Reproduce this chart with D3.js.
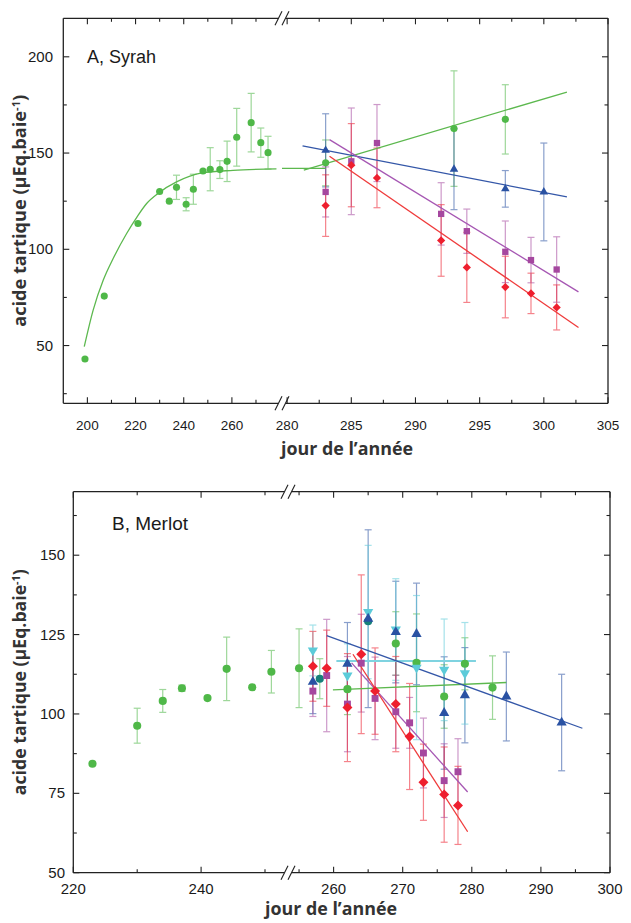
<!DOCTYPE html>
<html><head><meta charset="utf-8">
<script src="https://cdn.jsdelivr.net/npm/d3@7"></script>
<style>body{margin:0;background:#fff}</style>
</head><body><svg id="c" width="631" height="923"></svg>
<script>
// ---------------- DATA ----------------
// Panel A, Syrah – development (green circles)
const syrahDevDays = [199,207,221,230,234,237,241,244,248,251,255,258,262,268,272,275];
const syrahDevVals = [43,75.7,113.4,130,125,132.2,123.4,131.2,140.7,141.6,141.4,145.7,158.2,165.8,155.4,150.2];
const syrahDevErr  = [0,0,0,0,0,6.3,3.4,7.8,0,11.2,4.6,10.5,15,15.2,7.6,8.5];
// fitted curve
const syrahFitDays = [198.7,202.4,206.6,210.7,216.3,220.7,224.6,229.6,237,247.6,260.5,278.5];
const syrahFitVals = [49.4,68.4,84,95.2,108.2,117,123.8,129.3,135,139.7,141,141.8];
const syrahFitRightDays = [279.6,283];
const syrahFitRightVals = [142,142];
// Panel A treatments
const syrahGreenDays = [283,293,297];
const syrahGreenVals = [144.9,162.7,167.5];
const syrahGreenErr  = [11.9,30,18];
const syrahBlueDays = [283,293,297,300];
const syrahBlueVals = [151.4,141.6,131.4,129.8];
const syrahBlueErr  = [19,21,9.5,25.4];
const syrahPurpleDays = [283,285,287,292,294,297,299,301];
const syrahPurpleVals = [129.8,145.7,155.2,118.4,109.4,98.7,94.4,89.5];
const syrahPurpleErr  = [13,27.7,20,16.2,11.5,16,11.8,17];
const syrahRedDays = [283,285,287,292,294,297,299,301];
const syrahRedVals = [122.7,143.7,137.1,104.6,90.6,80.4,77.1,69.8];
const syrahRedErr  = [16,21.6,15.5,18.6,18.2,16,10.5,11.7];
// regression line end points [day, value]
const syrahGreenLine  = [[281.3,141.1],[301.8,181.7]];
const syrahBlueLine   = [[281.2,153.7],[301.8,127.2]];
const syrahPurpleLine = [[283.3,157],[302.7,77.9]];
const syrahRedLine    = [[283.3,148.3],[302.7,59.4]];

// Panel B, Merlot – development
const merlotDevDays = [223,230,234,237,241,244,248,251,255];
const merlotDevVals = [84.3,96.3,104.1,108.1,105,114.2,108.4,113.3,114.4];
const merlotDevErr  = [0,5.5,3.6,1,0,10,0,6.7,12.4];
// Panel B treatments
const merlotGreenDays = [262,269,272,276,279,283];
const merlotGreenVals = [107.8,122.2,116.1,105.5,115.8,108.3];
const merlotGreenErr  = [8,10,15.4,10,8.2,10];
const merlotBlueDays = [257,262,265,269,272,276,279,285,293];
const merlotBlueVals = [110.1,115.8,130,125.8,125.2,100.3,105.9,105.5,97.3];
const merlotBlueErr  = [10,13,28,16,16,17.7,15,14,15.2];
const merlotCyanDays = [257,262,265,269,272,276,279];
const merlotCyanVals = [120,112.1,132.1,126.6,114.6,113.9,112.8];
const merlotCyanErr  = [8,10,21,16,22.7,16,16];
const merlotTealDays = [258,265];
const merlotTealVals = [111.1,129.2];
const merlotTealErr  = [6.3,0];
const merlotRedDays = [257,259,262,264,266,269,271,273,276,278];
const merlotRedVals = [115,114.4,102,118.8,107.2,103.1,92.9,78.5,74.6,71.2];
const merlotRedErr  = [11,12,17,25,13.6,15,16.7,12,15,12.3];
const merlotPurpleDays = [257,259,262,264,266,269,271,273,276,278];
const merlotPurpleVals = [107.2,112.1,103.1,116,104.9,100.7,97.2,87.7,79,81.8];
const merlotPurpleErr  = [8,17.7,15,15.4,13,11.5,8,11,11.6,10.4];
const merlotGreenLine  = [[259.9,107.6],[285,109.9]];
const merlotBlueLine   = [[259,124.7],[296,95.5]];
const merlotCyanLine   = [[260.4,116.7],[280.6,116.7]];
const merlotRedLine    = [[262.8,118.8],[279.4,62.9]];
const merlotPurpleLine = [[262.6,116.1],[279.4,75.4]];

// tick values
const aLeftMajor = [200,220,240,260], aLeftMinor = [210,230,250,270];
const aRightMajor = [280,285,290,295,300,305], aRightMinor = [282.5,287.5,292.5,297.5,302.5];
const aYMajor = [50,100,150,200], aYMinor = [25,75,125,175];
const bLeftMajor = [220,240], bLeftMinor = [230,250];
const bRightMajor = [260,270,280,290,300], bRightMinor = [255,265,275,285,295];
const bYMajor = [50,75,100,125,150], bYMinor = [62.5,87.5,112.5,137.5,162.5];

// ---------------- STYLE ----------------
const C = {green:'#4fb848', blue:'#2a52a3', purple:'#a5479f', red:'#ee1f2e', cyan:'#5ccbd9', teal:'#17807a',
  greenLine:'#5cb84e', blueLine:'#3457a8', purpleLine:'#a657b3', redLine:'#ef3a3a', cyanLine:'#7fd3e0'};
const svg = d3.select('#c');
const tickFont = 'Liberation Sans, Arial, sans-serif';
const titleFont = '"Open Sans", "Noto Sans", sans-serif';

function panel(cfg){
  const g = svg.append('g');
  const xl = d3.scaleLinear().domain(cfg.xlDom).range([cfg.L, cfg.bx]);
  const xr = d3.scaleLinear().domain(cfg.xrDom).range([cfg.bx, cfg.R]);
  const y = d3.scaleLinear().domain(cfg.yDom).range([cfg.B, cfg.T]);
  const x = d => d <= cfg.split ? xl(d) : xr(d);
  const gap = 3.5;
  const fr = g.append('g').attr('stroke','#222').attr('stroke-width',1.3).attr('fill','none');
  // frame with break
  [cfg.T, cfg.B].forEach(yy=>{
    fr.append('line').attr('x1',cfg.L).attr('x2',cfg.bx-gap).attr('y1',yy).attr('y2',yy);
    fr.append('line').attr('x1',cfg.bx+gap).attr('x2',cfg.R).attr('y1',yy).attr('y2',yy);
    [-gap,gap].forEach(o=>{
      fr.append('line').attr('x1',cfg.bx+o-3.5).attr('x2',cfg.bx+o+3.5).attr('y1',yy+7).attr('y2',yy-7).attr('stroke-width',1.1);
    });
  });
  fr.append('line').attr('x1',cfg.L).attr('x2',cfg.L).attr('y1',cfg.T).attr('y2',cfg.B);
  fr.append('line').attr('x1',cfg.R).attr('x2',cfg.R).attr('y1',cfg.T).attr('y2',cfg.B);
  // x ticks
  const tk = g.append('g').attr('stroke','#222').attr('stroke-width',1.1);
  function xt(sc, vals, len){
    vals.forEach(v=>{
      const px = sc(v);
      tk.append('line').attr('x1',px).attr('x2',px).attr('y1',cfg.B).attr('y2',cfg.B-len);
      tk.append('line').attr('x1',px).attr('x2',px).attr('y1',cfg.T).attr('y2',cfg.T+len);
    });
  }
  xt(xl, cfg.xlMajor, 6); xt(xl, cfg.xlMinor, 3.5);
  xt(xr, cfg.xrMajor, 6); xt(xr, cfg.xrMinor, 3.5);
  function yt(vals,len){
    vals.forEach(v=>{
      const py = y(v);
      tk.append('line').attr('y1',py).attr('y2',py).attr('x1',cfg.L).attr('x2',cfg.L+len);
      tk.append('line').attr('y1',py).attr('y2',py).attr('x1',cfg.R).attr('x2',cfg.R-len);
    });
  }
  yt(cfg.yMajor,6); yt(cfg.yMinor,3.5);
  // tick labels
  const lab = g.append('g').attr('font-family',tickFont).attr('fill','#1a1a1a');
  cfg.xlMajor.forEach(v=>{
    lab.append('text').attr('x',xl(v)).attr('y',cfg.xLabY).attr('text-anchor','middle').attr('font-size',cfg.xFs).text(v);
  });
  cfg.xrMajor.forEach(v=>{
    lab.append('text').attr('x',xr(v)).attr('y',cfg.xLabY).attr('text-anchor','middle').attr('font-size',cfg.xFs).text(v);
  });
  cfg.yMajor.forEach(v=>{
    lab.append('text').attr('x',cfg.yLabX).attr('y',y(v)+5).attr('text-anchor','end').attr('font-size',cfg.yFs).text(v);
  });
  // titles
  g.append('text').attr('x',cfg.titleX).attr('y',cfg.xTitleY).attr('text-anchor','middle')
    .attr('font-family',titleFont).attr('font-weight',700).attr('font-size',18).attr('fill','#333')
    .attr('textLength',132).attr('lengthAdjust','spacingAndGlyphs').text('jour de l\u2019ann\u00e9e');
  const yc = (cfg.T+cfg.B)/2;
  const yt2 = g.append('text').attr('transform',`translate(${cfg.yTitleX},${yc}) rotate(-90)`).attr('text-anchor','middle')
    .attr('font-family',titleFont).attr('font-weight',700).attr('font-size',18).attr('fill','#333')
    .attr('textLength',cfg.yTitleLen).attr('lengthAdjust','spacingAndGlyphs');
  yt2.append('tspan').text('acide tartique (\u00b5Eq.baie');
  yt2.append('tspan').attr('dy',-6).attr('font-size',11).text('-1');
  yt2.append('tspan').attr('dy',6).text(')');
  g.append('text').attr('x',cfg.panelX).attr('y',cfg.panelY).attr('font-family',tickFont).attr('font-size',cfg.panelFs)
    .attr('fill','#1a1a1a').text(cfg.panelLabel);
  return {g,x,xl,xr,y};
}

function errorBars(p, days, vals, errs, color){
  const eg = p.g.append('g').attr('stroke',color).attr('stroke-width',1.2).attr('opacity',0.55);
  days.forEach((d,i)=>{
    if(!errs[i]) return;
    const px = p.x(d), y1 = p.y(vals[i]-errs[i]), y2 = p.y(vals[i]+errs[i]);
    eg.append('line').attr('x1',px).attr('x2',px).attr('y1',y1).attr('y2',y2);
    eg.append('line').attr('x1',px-3.5).attr('x2',px+3.5).attr('y1',y1).attr('y2',y1);
    eg.append('line').attr('x1',px-3.5).attr('x2',px+3.5).attr('y1',y2).attr('y2',y2);
  });
}
function markers(p, days, vals, color, type, size, rot){
  const sym = d3.symbol().type(type).size(size);
  p.g.append('g').selectAll('path').data(days).join('path')
    .attr('d', sym)
    .attr('transform',(d,i)=>`translate(${p.x(d)},${p.y(vals[i])}) rotate(${rot||0})`)
    .attr('fill',color);
}
function segLine(p, pts, color, w){
  p.g.append('path').datum(pts).attr('d', d3.line().x(d=>p.x(d[0])).y(d=>p.y(d[1])))
    .attr('stroke',color).attr('stroke-width',w||1.3).attr('fill','none');
}

// ---------------- PANEL A ----------------
const A = panel({L:63.3, R:608, T:18.3, B:403.3, bx:282, split:279.3,
  xlDom:[190,280.8], xrDom:[279.6,305], yDom:[20,220],
  xlMajor:aLeftMajor, xlMinor:aLeftMinor, xrMajor:aRightMajor, xrMinor:aRightMinor,
  yMajor:aYMajor, yMinor:aYMinor, xLabY:430, xFs:13.5, yLabX:53, yFs:15,
  titleX:347, xTitleY:455, yTitleX:26, yTitleLen:232,
  panelX:87, panelY:63, panelFs:18, panelLabel:'A, Syrah'});

errorBars(A, syrahDevDays, syrahDevVals, syrahDevErr, C.green);
errorBars(A, syrahGreenDays, syrahGreenVals, syrahGreenErr, C.green);
errorBars(A, syrahBlueDays, syrahBlueVals, syrahBlueErr, C.blue);
errorBars(A, syrahPurpleDays, syrahPurpleVals, syrahPurpleErr, C.purple);
errorBars(A, syrahRedDays, syrahRedVals, syrahRedErr, C.red);

A.g.append('path').datum(syrahFitDays.map((d,i)=>[d,syrahFitVals[i]]))
  .attr('d', d3.line().x(d=>A.xl(d[0])).y(d=>A.y(d[1])).curve(d3.curveMonotoneX))
  .attr('stroke',C.greenLine).attr('stroke-width',1.3).attr('fill','none');
A.g.append('path').datum(syrahFitRightDays.map((d,i)=>[d,syrahFitRightVals[i]]))
  .attr('d', d3.line().x(d=>A.xr(d[0])).y(d=>A.y(d[1])))
  .attr('stroke',C.greenLine).attr('stroke-width',1.3).attr('fill','none');
segLine(A, syrahGreenLine, C.greenLine);
segLine(A, syrahBlueLine, C.blueLine);
segLine(A, syrahPurpleLine, C.purpleLine);
segLine(A, syrahRedLine, C.redLine);

markers(A, syrahDevDays, syrahDevVals, C.green, d3.symbolCircle, 40);
markers(A, syrahGreenDays, syrahGreenVals, C.green, d3.symbolCircle, 40);
markers(A, syrahPurpleDays, syrahPurpleVals, C.purple, d3.symbolSquare, 40);
markers(A, syrahRedDays, syrahRedVals, C.red, d3.symbolSquare, 34, 45);
markers(A, syrahBlueDays, syrahBlueVals, C.blue, d3.symbolTriangle, 32);

// ---------------- PANEL B ----------------
const Bp = panel({L:73.3, R:610, T:491.7, B:872.7, bx:288, split:253.5,
  xlDom:[220,253.6], xrDom:[253.4,300], yDom:[50,170],
  xlMajor:bLeftMajor, xlMinor:bLeftMinor, xrMajor:bRightMajor, xrMinor:bRightMinor,
  yMajor:bYMajor, yMinor:bYMinor, xLabY:894, xFs:15, yLabX:65, yFs:15,
  titleX:331, xTitleY:915, yTitleX:26, yTitleLen:226,
  panelX:112, panelY:530, panelFs:19, panelLabel:'B, Merlot'});

errorBars(Bp, merlotDevDays, merlotDevVals, merlotDevErr, C.green);
errorBars(Bp, merlotGreenDays, merlotGreenVals, merlotGreenErr, C.green);
errorBars(Bp, merlotTealDays, merlotTealVals, merlotTealErr, C.green);
errorBars(Bp, merlotBlueDays, merlotBlueVals, merlotBlueErr, C.blue);
errorBars(Bp, merlotCyanDays, merlotCyanVals, merlotCyanErr, C.cyan);
errorBars(Bp, merlotPurpleDays, merlotPurpleVals, merlotPurpleErr, C.purple);
errorBars(Bp, merlotRedDays, merlotRedVals, merlotRedErr, C.red);

segLine(Bp, merlotGreenLine, C.greenLine);
segLine(Bp, merlotCyanLine, C.cyanLine, 2);
segLine(Bp, merlotBlueLine, C.blueLine);
segLine(Bp, merlotPurpleLine, C.purpleLine);
segLine(Bp, merlotRedLine, C.redLine);

markers(Bp, merlotDevDays, merlotDevVals, C.green, d3.symbolCircle, 52);
markers(Bp, merlotGreenDays, merlotGreenVals, C.green, d3.symbolCircle, 52);
markers(Bp, merlotTealDays, merlotTealVals, C.teal, d3.symbolCircle, 52);
markers(Bp, merlotPurpleDays, merlotPurpleVals, C.purple, d3.symbolSquare, 48);
markers(Bp, merlotRedDays, merlotRedVals, C.red, d3.symbolSquare, 50, 45);
markers(Bp, merlotCyanDays, merlotCyanVals, C.cyan, d3.symbolTriangle, 45, 180);
markers(Bp, merlotBlueDays, merlotBlueVals, C.blue, d3.symbolTriangle, 45);
</script></body></html>
